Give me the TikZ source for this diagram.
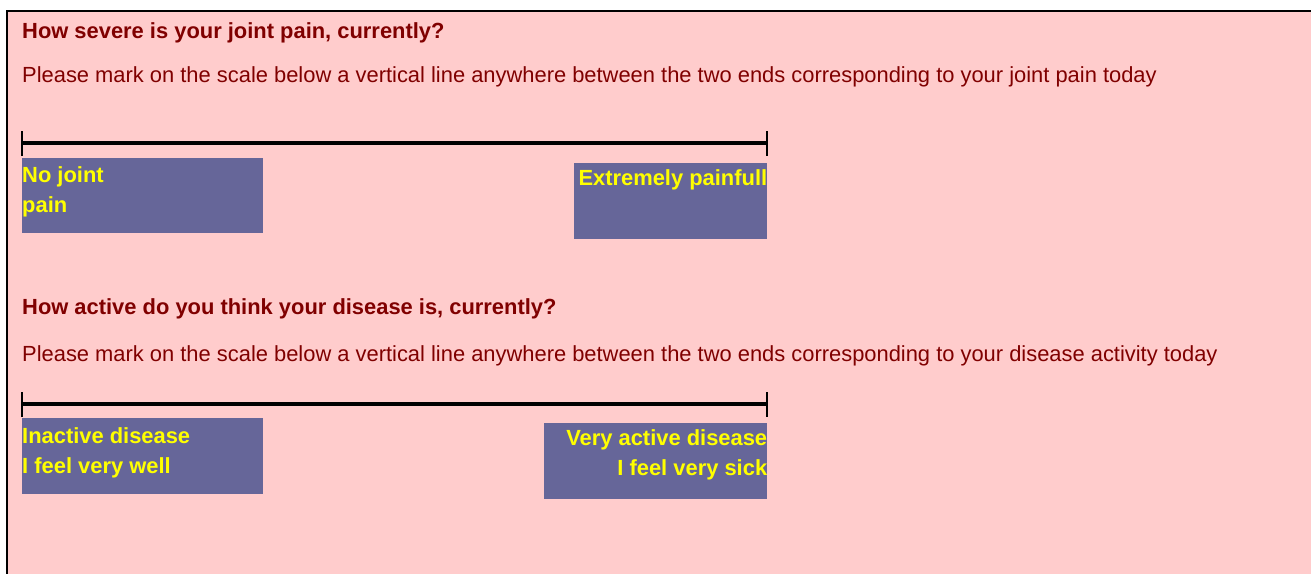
\documentclass[tikz,border=0pt]{standalone}
\usepackage{fontspec}
\setmainfont{Liberation Sans}
\usetikzlibrary{positioning}

\definecolor{formbg}{HTML}{FFCCCC}
\definecolor{formred}{HTML}{800000}
\definecolor{boxblue}{HTML}{666699}
\definecolor{boxtext}{HTML}{FFFF00}

\begin{document}
\begin{tikzpicture}[x=1pt, y=-1pt,
    question/.style={anchor=base west, inner sep=0pt, text=formred, font=\bfseries\fontsize{21.9}{26}\selectfont},
    hint/.style={anchor=base west, inner sep=0pt, text=formred, font=\fontsize{21.9}{26}\selectfont},
    scaleline/.style={line width=4pt},
    tick/.style={line width=2pt},
    endbox/.style={anchor=north west, fill=boxblue, inner sep=0pt, text=boxtext, font=\bfseries\fontsize{21.9}{30}\selectfont}]

        \useasboundingbox (0,0) rectangle (1311,573);

        \coordinate (s1l) at (22,143);
        \coordinate (s1r) at (767,143);
        \coordinate (s2l) at (22,404);
        \coordinate (s2r) at (767,404);

        % form background
        \path[fill=formbg] (7,11) rectangle (1320,580);
        \path[draw, line width=2.5pt] (7,580) -- (7,11) -- (1320,11);

        \node[question] (q1) at (22,38) {How severe is your joint pain, currently?};
        \node[hint] (h1) at (22,82) {Please mark on the scale below a vertical line anywhere between the two ends corresponding to your joint pain today};

        \draw[scaleline] (s1l) -- (s1r);
        \draw[tick] ([yshift=-12.5pt]s1l) -- ([yshift=12.5pt]s1l);
        \draw[tick] ([yshift=-12.5pt]s1r) -- ([yshift=12.5pt]s1r);

        \node[endbox] (nopain) at (22,158) {\parbox[c][75pt][t]{241pt}{\raggedright\rule{0pt}{24.5pt}No joint\\pain}};
        \node[endbox] (painful) at (574,163) {\parbox[c][76pt][t]{193pt}{\raggedleft\rule{0pt}{22.5pt}Extremely painfull}};

        \node[question] (q2) at (22,314) {How active do you think your disease is, currently?};
        \node[hint] (h2) at (22,361) {Please mark on the scale below a vertical line anywhere between the two ends corresponding to your disease activity today};

        \draw[scaleline] (s2l) -- (s2r);
        \draw[tick] ([yshift=-12.5pt]s2l) -- ([yshift=12.5pt]s2l);
        \draw[tick] ([yshift=-12.5pt]s2r) -- ([yshift=12.5pt]s2r);

        \node[endbox] (inactive) at (22,418) {\parbox[c][76pt][t]{241pt}{\raggedright\rule{0pt}{25pt}Inactive disease\\I feel very well}};
        \node[endbox] (active) at (544,423) {\parbox[c][76pt][t]{223pt}{\raggedleft\rule{0pt}{22.5pt}Very active disease\\I feel very sick}};

\end{tikzpicture}
\end{document}
